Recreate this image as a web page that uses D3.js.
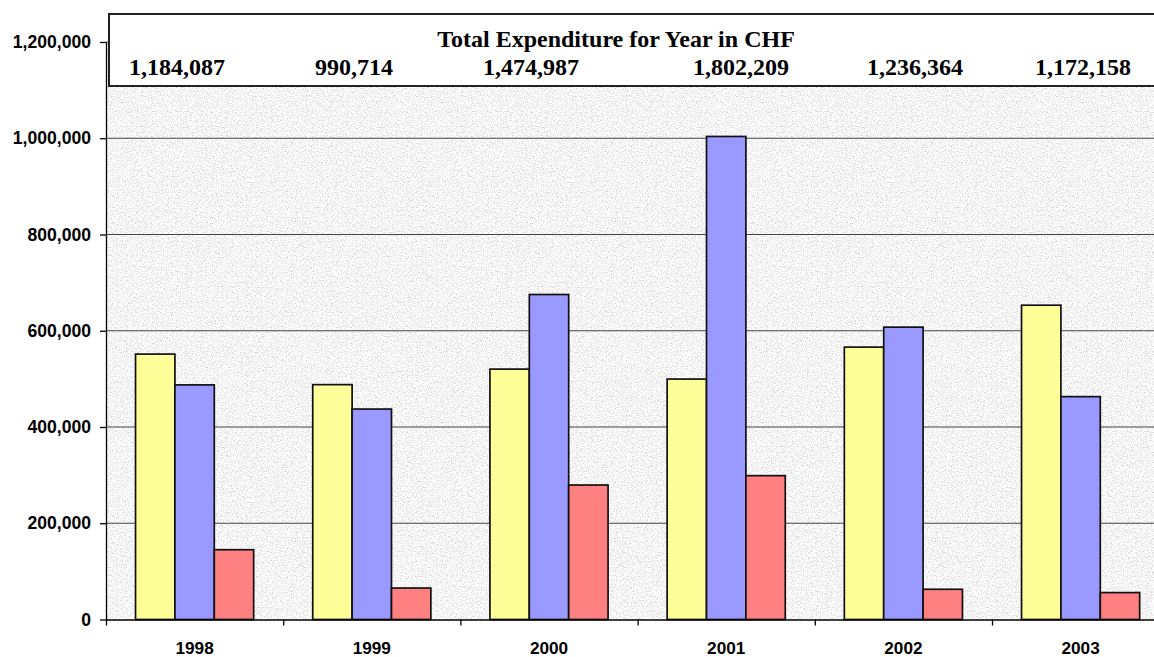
<!DOCTYPE html>
<html>
<head>
<meta charset="utf-8">
<script src="https://cdn.jsdelivr.net/npm/d3@7"></script>
<style>
  body { margin: 0; background: #fff; }
  svg { display: block; }
</style>
</head>
<body>
<svg></svg>
<script>
//chart values
const years = ['1998', '1999', '2000', '2001', '2002', '2003'];
const seriesNames = ['yellow', 'blue', 'red'];
const yellowValues = [551500, 488000, 520300, 499600, 566000, 653100];
const blueValues = [487500, 437300, 675300, 1003700, 607500, 463100];
const redValues = [145000, 65400, 279400, 298900, 62800, 55900];
const totals = [1184087, 990714, 1474987, 1802209, 1236364, 1172158];
const yTicks = [0, 200000, 400000, 600000, 800000, 1000000, 1200000];
const colors = ['#FFFF99', '#9999FF', '#FF8080'];

const w = 1154;
const h = 657;
const plotLeft = 106;
const plotRight = 1169.2; //plot goes past the edge of the picture
const plotTop = 42;
const plotBottom = 619.5;

const svg = d3.select('svg')
    .attr('width', w)
    .attr('height', h);

//table of rows for the grouped bars
const dataset = years.map((y, i) => {
    return { year: y, values: [yellowValues[i], blueValues[i], redValues[i]] }
});

let x0, x1, xEdges, yScale

const generateScales = () => {
    x0 = d3.scaleBand()
        .domain(years)
        .range([plotLeft, plotRight])
        .paddingInner(1 / 3)
        .paddingOuter(1 / 6)

    x1 = d3.scaleBand()
        .domain(seriesNames)
        .range([0, x0.bandwidth()])

    //category borders for the tick marks
    xEdges = d3.scaleLinear()
        .domain([0, years.length])
        .range([plotLeft, plotRight])

    yScale = d3.scaleLinear()
        .domain([0, 1200000])
        .range([plotBottom, plotTop])
}

//grainy grey background like the excel texture
const drawBackground = () => {
    const defs = svg.append('defs')
    const f = defs.append('filter')
        .attr('id', 'grain')
        .attr('x', 0).attr('y', 0).attr('width', 1).attr('height', 1)
    f.append('feTurbulence')
        .attr('type', 'fractalNoise')
        .attr('baseFrequency', 0.8)
        .attr('numOctaves', 2)
        .attr('seed', 7)
    f.append('feColorMatrix')
        .attr('type', 'matrix')
        .attr('values', '1.0 0 0 0 0.43  1.0 0 0 0 0.43  1.0 0 0 0 0.43  0 0 0 0 1')

    svg.append('rect')
        .attr('x', plotLeft)
        .attr('y', plotTop)
        .attr('width', plotRight - plotLeft)
        .attr('height', plotBottom - plotTop)
        .attr('fill', '#e8e8e8')
        .attr('filter', 'url(#grain)')

    //grid lines
    svg.append('g')
        .selectAll('line')
        .data(yTicks.filter(d => d > 0))
        .enter()
        .append('line')
        .attr('x1', plotLeft)
        .attr('x2', plotRight)
        .attr('y1', d => yScale(d))
        .attr('y2', d => yScale(d))
        .attr('stroke', '#444')
        .attr('stroke-width', 1.2)
}

const drawBars = () => {
    svg.append('g')
        .selectAll('g')
        .data(dataset)
        .enter()
        .append('g')
        .attr('transform', d => 'translate(' + x0(d.year) + ',0)')
        .selectAll('rect')
        .data(d => d.values)
        .enter()
        .append('rect')
        .attr('x', (d, i) => x1(seriesNames[i]))
        .attr('y', d => yScale(d))
        .attr('width', x1.bandwidth())
        .attr('height', d => yScale(0) - yScale(d))
        .attr('fill', (d, i) => colors[i])
        .attr('stroke', '#111')
        .attr('stroke-width', 1.7)
}

const drawAxes = () => {
    const yAxis = d3.axisLeft(yScale)
        .tickValues(yTicks)
        .tickFormat(d3.format(','))
        .tickSize(6)
        .tickSizeOuter(0)
        .tickPadding(9)
    const gy = svg.append('g')
        .attr('transform', 'translate(' + plotLeft + ',0)')
        .call(yAxis)
    gy.selectAll('text')
        .style('font-family', '"Liberation Sans", Arial, sans-serif')
        .style('font-size', '17.6px')
        .style('font-weight', 'bold')
        .attr('fill', '#000')
    gy.selectAll('line, path').attr('stroke', '#000').attr('stroke-width', 1.3)

    //ticks on category borders
    const edgeAxis = d3.axisBottom(xEdges)
        .tickValues(d3.range(years.length + 1))
        .tickFormat('')
        .tickSize(6)
        .tickSizeOuter(0)
    svg.append('g')
        .attr('transform', 'translate(0,' + plotBottom + ')')
        .call(edgeAxis)
        .selectAll('line, path').attr('stroke', '#000').attr('stroke-width', 1.3)

    //year labels in the middle of each group
    const xAxis = d3.axisBottom(x0)
        .tickSize(0)
        .tickPadding(22)
    const gx = svg.append('g')
        .attr('transform', 'translate(0,' + plotBottom + ')')
        .call(xAxis)
    gx.select('.domain').remove()
    gx.selectAll('text')
        .style('font-family', '"Liberation Sans", Arial, sans-serif')
        .style('font-size', '17.2px')
        .style('font-weight', 'bold')
        .attr('fill', '#000')
}

//the text box with the yearly totals
const drawTotalsBox = () => {
    const box = svg.append('g')
    box.append('rect')
        .attr('x', 109)
        .attr('y', 14)
        .attr('width', 1080)
        .attr('height', 72)
        .attr('fill', '#fff')
        .attr('stroke', '#222')
        .attr('stroke-width', 2)

    box.append('text')
        .attr('x', 616)
        .attr('y', 47)
        .attr('text-anchor', 'middle')
        .style('font-family', '"Liberation Serif", "Times New Roman", serif')
        .style('font-size', '24px')
        .style('font-weight', 'bold')
        .text('Total Expenditure for Year in CHF')

    //numbers are spaced out with blanks like the original text box
    const gaps = [15, 15, 19, 13, 12];
    let line = ''
    totals.forEach((t, i) => {
        line += d3.format(',')(t)
        if (i < gaps.length) line += ' '.repeat(gaps[i])
    })
    box.append('text')
        .attr('x', 129)
        .attr('y', 75)
        .attr('xml:space', 'preserve')
        .style('white-space', 'pre')
        .style('font-family', '"Liberation Serif", "Times New Roman", serif')
        .style('font-size', '24px')
        .style('font-weight', 'bold')
        .text(line)
}

generateScales()
drawBackground()
drawBars()
drawAxes()
drawTotalsBox()
</script>
</body>
</html>
